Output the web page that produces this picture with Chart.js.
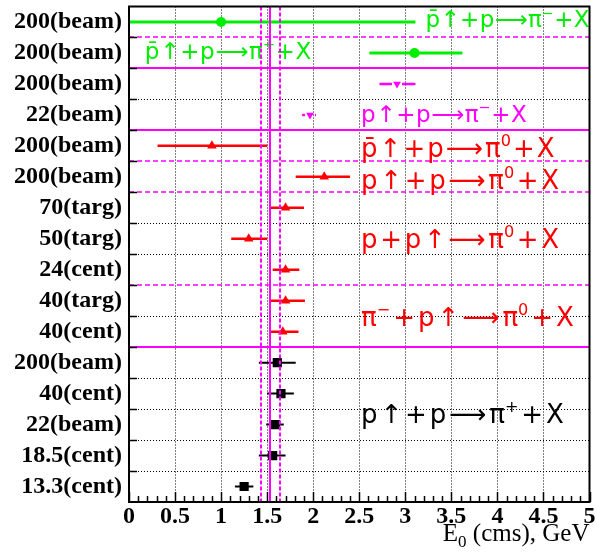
<!DOCTYPE html>
<html><head><meta charset="utf-8">
<script src="https://cdn.jsdelivr.net/npm/chart.js@4/dist/chart.umd.min.js"></script>
<style>html,body{margin:0;padding:0;background:#fff;}#wrap{width:596px;height:556px;}</style>
</head><body><div id="wrap"><canvas id="c" width="596" height="556"></canvas></div>
<script>
// ---------------- data ----------------
const rowLabels = ['200(beam)','200(beam)','200(beam)','22(beam)','200(beam)','200(beam)','70(targ)','50(targ)',
  '24(cent)','40(targ)','40(cent)','200(beam)','40(cent)','22(beam)','18.5(cent)','13.3(cent)'];
const xTickValues = [0,0.5,1,1.5,2,2.5,3,3.5,4,4.5,5];
const xTickLabels = ['0','0.5','1','1.5','2','2.5','3','3.5','4','4.5','5'];
// E0 central value and error-bar ends, one per row (top to bottom)
const E0     = [1.00, 3.10, 2.91, 1.965, 0.90, 2.12, 1.70, 1.30, 1.70, 1.70, 1.67, 1.61, 1.65, 1.59, 1.56, 1.25];
const E0low  = [0.00, 2.61, 2.72, 1.88,  0.31, 1.81, 1.52, 1.11, 1.56, 1.52, 1.54, 1.41, 1.50, 1.49, 1.41, 1.15];
const E0high = [3.11, 3.62, 3.11, 2.03,  1.50, 2.40, 1.90, 1.50, 1.85, 1.91, 1.84, 1.81, 1.79, 1.68, 1.70, 1.35];
const greenRows   = [0,1];
const magentaRows = [2,3];
const redRows     = [4,5,6,7,8,9,10];
const blackRows   = [11,12,13,14,15];
// reference energies (vertical lines)
const refE0 = [1.435, 1.53, 1.635];
// row boundaries and their style
const boundaryRows  = [1,2,3,4,5,6,7,8,9,10,11,12,13,14,15];
const boundaryKinds = ['dash','solid','dot','solid','dash','dash','dot','dot','dash','dot','solid','dot','dot','dot','dot'];
// reaction labels (tokens, '^' = superscript)
const reactionTokens = [
  ['p\u0304','\u2191','+','p','\u27F6','\u03C0','^\u2212','+','X'],
  ['p\u0304','\u2191','+','p','\u27F6','\u03C0','^+','+','X'],
  ['p','\u2191','+','p','\u27F6','\u03C0','^\u2212','+','X'],
  ['p\u0304','\u2191','+','p','\u27F6','\u03C0','^0','+','X'],
  ['p','\u2191','+','p','\u27F6','\u03C0','^0','+','X'],
  ['p','+','p','\u2191','\u27F6','\u03C0','^0','+','X'],
  ['\u03C0','^\u2212','+','p','\u2191','\u27F6','\u03C0','^0','+','X'],
  ['p','\u2191','+','p','\u27F6','\u03C0','^+','+','X']
];
const reactionFrom = [3.22, 0.172, 2.52, 2.52, 2.52, 2.52, 2.52, 2.52];
const reactionTo   = [5.00, 1.98, 4.32, 4.62, 4.67, 4.67, 4.83, 4.72];
const reactionRow  = [0.675, 1.70, 3.73, 4.85, 5.88, 7.81, 10.31, 13.46];

// ---------------- styles ----------------
const GREEN='#00ee00', MAG='#ff00ff', RED='#ff0000', BLACK='#000000';
const reactionColor = [GREEN, GREEN, MAG, RED, RED, RED, RED, BLACK];
const reactionSize  = [23, 23, 23, 26, 26, 26, 26, 26];

function mkSet(rows, color, style, radius, rotation, errWidth, errGap){
  return {
    data: rows.map(i => ({x:E0[i], y:i+0.5, lo:E0low[i], hi:E0high[i]})),
    backgroundColor: color, borderColor: color, pointStyle: style,
    pointRadius: radius, pointRotation: rotation||0, borderWidth: 0, showLine:false,
    errColor: color, errWidth: errWidth, errGap: errGap||0
  };
}

function seg(ctx,x1,y1,x2,y2){ctx.beginPath();ctx.moveTo(x1,y1);ctx.lineTo(x2,y2);ctx.stroke();}

const decor = {
  id:'decor',
  beforeDatasetsDraw(chart){
    const {ctx, chartArea:a, scales:{x,y}} = chart;
    ctx.save();
    ctx.beginPath(); ctx.rect(a.left,a.top,a.right-a.left,a.bottom-a.top); ctx.clip();
    // dotted grid
    ctx.lineWidth=1; ctx.strokeStyle='#000'; ctx.setLineDash([1,2]);
    xTickValues.forEach(v=>{ if(v<=0||v>=5) return; const p=Math.round(x.getPixelForValue(v))+0.5; seg(ctx,p,a.top,p,a.bottom); });
    boundaryRows.forEach((r,k)=>{ if(boundaryKinds[k]!=='dot') return; const p=Math.round(y.getPixelForValue(r))+0.5; seg(ctx,a.left,p,a.right,p); });
    // magenta separators
    ctx.strokeStyle=MAG;
    boundaryRows.forEach((r,k)=>{
      const p=Math.round(y.getPixelForValue(r));
      if(boundaryKinds[k]==='dash'){ctx.lineWidth=1.5;ctx.setLineDash([5,3]);seg(ctx,a.left,p,a.right,p);}
      else if(boundaryKinds[k]==='solid'){ctx.lineWidth=2;ctx.setLineDash([]);seg(ctx,a.left,p,a.right,p);}
    });
    // error bars
    ctx.setLineDash([]);
    chart.data.datasets.forEach(ds=>{
      ctx.strokeStyle=ds.errColor; ctx.lineWidth=ds.errWidth;
      ds.data.forEach(d=>{
        const py=y.getPixelForValue(d.y), pc=x.getPixelForValue(d.x);
        const pl=x.getPixelForValue(d.lo), ph=x.getPixelForValue(d.hi);
        if(ds.errGap>0){
          if(pc-ds.errGap>pl) seg(ctx,pl,py,pc-ds.errGap,py);
          if(pc+ds.errGap<ph) seg(ctx,pc+ds.errGap,py,ph,py);
        } else seg(ctx,pl,py,ph,py);
      });
    });
    ctx.restore();
  },
  afterDatasetsDraw(chart){
    const {ctx, chartArea:a, scales:{x,y}} = chart;
    ctx.save();
    // reaction labels
    ctx.textBaseline='alphabetic'; ctx.textAlign='left';
    reactionTokens.forEach((toks,k)=>{
      const base=reactionSize[k];
      const segs=toks.map(t=>{const sup=t.startsWith('^');const txt=sup?t.slice(1):t;const fs=sup?base*0.62:base;
        ctx.font=fs+'px "DejaVu Sans"';return {txt,sup,fs,w:ctx.measureText(txt).width};});
      const x0=x.getPixelForValue(reactionFrom[k]), x1=x.getPixelForValue(reactionTo[k]);
      const W=segs.reduce((s,g)=>s+g.w,0);
      const n=segs.filter((g,i)=>i>0&&!g.sup).length;
      const gap=(x1-x0-W)/n;
      const by=y.getPixelForValue(reactionRow[k]);
      let cx=x0; ctx.fillStyle=reactionColor[k];
      segs.forEach((g,i)=>{ if(i>0&&!g.sup) cx+=gap; ctx.font=g.fs+'px "DejaVu Sans"';
        ctx.fillText(g.txt,cx,g.sup?by-base*0.42:by); cx+=g.w; });
    });
    // reference vertical lines
    ctx.strokeStyle=MAG; ctx.lineWidth=2;
    refE0.forEach((v,k)=>{ const p=Math.round(x.getPixelForValue(v));
      ctx.setLineDash(k===1?[]:[4,2]); seg(ctx,p,a.top,p,a.bottom); });
    ctx.setLineDash([]);
    // frame
    ctx.strokeStyle='#000'; ctx.lineWidth=2;
    ctx.strokeRect(a.left,a.top,a.right-a.left,a.bottom-a.top);
    // x ticks inward
    ctx.lineWidth=1.5;
    for(let i=0;i<=50;i++){ const v=i/10; const p=Math.round(x.getPixelForValue(v))+0.5;
      const L=(i%5===0)?10:6; seg(ctx,p,a.bottom,p,a.bottom-L); }
    // y ticks inward at row boundaries
    boundaryRows.forEach(r=>{ const p=Math.round(y.getPixelForValue(r))+0.5; seg(ctx,a.left,p,a.left+8,p); });
    // axis title
    ctx.fillStyle='#000'; ctx.textAlign='left'; ctx.textBaseline='alphabetic';
    const by=541;
    ctx.font='25px "Liberation Serif"'; const wE=ctx.measureText('E').width; const wR=ctx.measureText(' (cms), GeV').width;
    ctx.font='17px "Liberation Serif"'; const w0=ctx.measureText('0').width;
    let sx=a.right-(wE+w0+wR);
    ctx.font='25px "Liberation Serif"'; ctx.fillText('E',sx,by); sx+=wE;
    ctx.font='17px "Liberation Serif"'; ctx.fillText('0',sx,by+6); sx+=w0;
    ctx.font='25px "Liberation Serif"'; ctx.fillText(' (cms), GeV',sx,by);
    ctx.restore();
  }
};

new Chart(document.getElementById('c'), {
  type:'scatter',
  data:{ datasets:[
    mkSet(greenRows, GREEN, 'circle', 5, 0, 3, 0),
    mkSet(magentaRows, MAG, 'triangle', 4.5, 180, 2.5, 5),
    mkSet(redRows, RED, 'triangle', 5.5, 0, 2.5, 0),
    mkSet(blackRows, BLACK, 'rect', 6.5, 0, 2, 0)
  ]},
  options:{
    responsive:false, animation:false, devicePixelRatio:1,
    layout:{padding:{left:0,right:3,top:4,bottom:0}},
    plugins:{legend:{display:false}, tooltip:{enabled:false}},
    scales:{
      x:{ type:'linear', min:0, max:5,
        afterBuildTicks:s=>{ s.ticks=xTickValues.map(v=>({value:v})); },
        afterFit:s=>{ s.height=54; s.paddingLeft=0; s.paddingRight=0; },
        grid:{display:false, drawTicks:false}, border:{display:false},
        ticks:{ padding:0, color:'#000', maxRotation:0, autoSkip:false,
          font:{family:'Liberation Serif', size:24, weight:'bold'},
          callback:(v)=>xTickLabels[xTickValues.indexOf(v)] }
      },
      y:{ type:'linear', min:0, max:16, reverse:true,
        afterBuildTicks:s=>{ s.ticks=rowLabels.map((_,i)=>({value:i+0.5})); },
        afterFit:s=>{ s.width=129; s.paddingTop=0; s.paddingBottom=0; },
        grid:{display:false, drawTicks:false}, border:{display:false},
        ticks:{ padding:7, color:'#000', autoSkip:false,
          font:{family:'Liberation Serif', size:24, weight:'bold'},
          callback:(v)=>rowLabels[Math.round(v-0.5)] }
      }
    }
  },
  plugins:[decor]
});
</script></body></html>
